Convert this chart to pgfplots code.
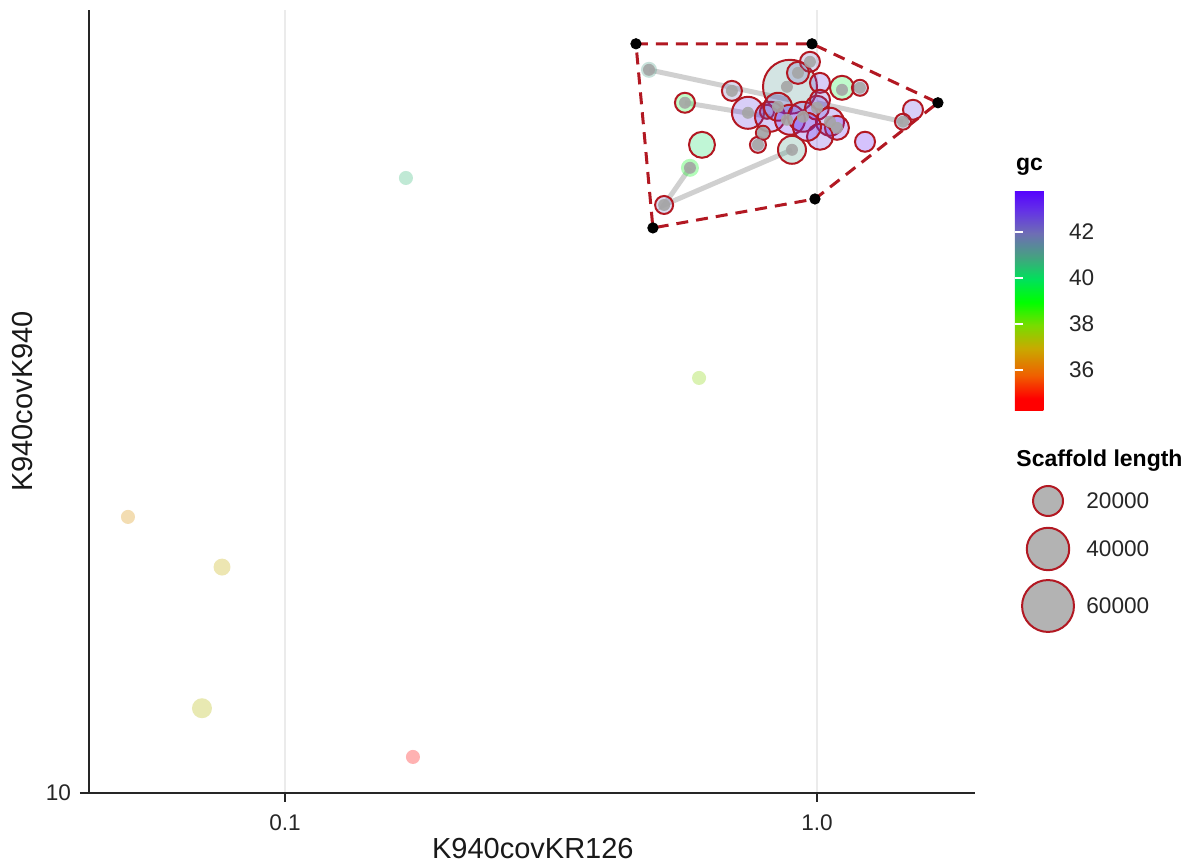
\documentclass[border=0pt]{standalone}
\usepackage{fontspec}
\setmainfont{Liberation Sans}
\usepackage{pgfplots}
\usepackage{pgfplotstable}
\pgfplotsset{compat=1.18}
\pgfkeys{/pgf/number format/assume math mode=true}

\definecolor{hullred}{RGB}{178,24,34}
\definecolor{dotgrey}{RGB}{165,165,165}
\definecolor{linegrey}{RGB}{200,200,200}
\definecolor{gridgrey}{RGB}{235,235,235}
\definecolor{legfill}{RGB}{179,179,179}

\pgfplotsset{colormap={gcmap}{
  rgb255(0cm)=(255,0,0)
  rgb255(5cm)=(255,0,0)
  rgb255(15cm)=(240,95,0)
  rgb255(27cm)=(200,170,0)
  rgb255(37cm)=(120,220,0)
  rgb255(47cm)=(0,255,0)
  rgb255(57cm)=(0,225,90)
  rgb255(67cm)=(70,160,130)
  rgb255(77cm)=(110,110,180)
  rgb255(87cm)=(100,50,230)
  rgb255(96cm)=(85,0,255)
}}

% faded (low coverage) points
\pgfplotstableread{
x y len gc
0.1688 40.85 4400 40.6
0.6003 25.85 4400 37.8
0.05068 18.81 4400 36.5
0.07614 16.77 6400 37.0
0.06982 12.14 8900 37.2
0.1740 10.86 4400 34.5
0.5771 41.81 7200 39.2
0.4833 52.32 5700 41.0
}\faded

% cluster scaffolds
\pgfplotstableread{
x y len gc
0.8898 50.33 64900 41.2
0.9701 53.29 8900 42.0
0.9211 51.96 10800 42.0
1.0131 50.78 8900 42.8
1.1144 50.21 12800 39.5
1.2045 50.21 5700 42.0
0.6921 49.86 8900 42.0
0.5647 48.52 8900 39.3
0.6079 44.07 15000 40.0
0.7419 47.42 22800 42.8
0.8054 47.53 4400 42.0
0.8161 46.99 20000 42.8
0.8447 48.08 17400 42.5
0.8898 46.67 20000 43.2
0.9412 46.99 20000 42.8
1.0000 47.97 12800 42.5
1.0579 46.46 17400 42.8
1.0904 45.82 12800 43.2
1.0131 44.89 15000 42.8
0.8975 43.57 17400 41.0
0.9576 45.92 17400 43.2
0.7916 45.30 4400 42.0
0.7747 44.07 5700 42.0
1.2311 44.38 8900 43.6
1.5153 47.75 8900 42.8
1.4510 46.46 5700 42.0
1.0131 48.85 8900 42.5
0.5160 38.41 7200 42.0
}\cluster

% network nodes
\pgfplotstableread{
x y
0.4833 52.32
0.5771 41.81
0.5160 38.41
0.6921 49.86
0.5647 48.52
0.8781 50.33
0.9701 53.29
0.9211 51.96
1.1144 49.98
1.2045 50.21
0.7419 47.42
0.8781 46.67
0.8975 43.57
0.7916 45.30
0.7747 44.07
1.4510 46.46
1.0904 45.82
1.0000 47.97
0.8447 48.08
0.9412 46.99
1.0579 46.46
}\nodes

% size legend
\pgfplotstableread{
x y len
1048 501 20000
1048 549 40000
1048 606 60000
}\sizeleg

\begin{document}
\begin{tikzpicture}
\path[use as bounding box] (-44.5pt,-36pt) rectangle (555.5pt,396.5pt);
\begin{axis}[
  at={(0,0)}, anchor=south west,
  scale only axis, width=443pt, height=391.5pt,
  xmode=log, ymode=log,
  xmin=0.04281, xmax=1.982, ymin=10, ymax=60,
  axis lines=left,
  axis line style={-, line width=1.2pt, black!85},
  xtick={0.1,1}, xticklabels={0.1,1.0},
  ytick={10}, yticklabels={10},
  minor tick length=0pt,
  tick align=outside, major tick length=4.5pt,
  tick style={line width=1pt, black!85},
  xmajorgrids, major grid style={gridgrey, line width=0.8pt},
  ticklabel style={font=\fontsize{11.3}{13}\selectfont, text=black!85},
  xticklabel style={yshift=-3pt},
  yticklabel style={xshift=-1pt},
  xlabel={K940covKR126}, ylabel={K940covK940},
  label style={font=\fontsize{14.5}{17}\selectfont, text=black!90},
  xlabel style={at={(axis description cs:0.501,-0.0715)}, anchor=center},
  ylabel style={at={(axis description cs:-0.0745,0.50)}, anchor=center},
  clip=false,
  colormap name=gcmap,
  point meta min=34.26, point meta max=43.83,
  colorbar,
  colorbar style={
    at={(1.0451,0.7701)}, anchor=north west,
    scale only axis, width=22pt, height=110pt,
    ytick={36,38,40,42},
    yticklabel pos=right, ytick pos=both,
    tick align=inside, major tick length=4pt,
    tick style={white, line width=0.6pt},
    axis line style={draw=none},
    yticklabel style={font=\fontsize{11.3}{13}\selectfont, text=black!85, xshift=1.5pt},
    title={gc},
    title style={font=\bfseries\fontsize{11.5}{13}\selectfont, at={(0,1)}, anchor=south west, xshift=-3pt, yshift=-2pt},
  },
]
% faded points
\addplot[scatter, only marks, mark=*, point meta=explicit,
  scatter/use mapped color={draw=mapped color, draw opacity=0, fill=mapped color, fill opacity=0.3},
  visualization depends on={5.3*sqrt(\thisrow{len}/10000) \as \rad},
  scatter/@pre marker code/.append style={/tikz/mark size=\rad}]
  table[x=x, y=y, meta=gc] {\faded};
% network edges
\addplot[linegrey, line width=2.5pt, opacity=0.85] coordinates {(0.4833,52.32) (0.8898,48.85)};
\addplot[linegrey, line width=2.5pt, opacity=0.85] coordinates {(0.5647,48.52) (0.8161,46.99)};
\addplot[linegrey, line width=2.5pt, opacity=0.85] coordinates {(0.5771,41.81) (0.5160,38.41) (0.8975,43.57)};
\addplot[linegrey, line width=2.5pt, opacity=0.85] coordinates {(1.4510,46.46) (1.0000,48.52)};
% cluster circles
\addplot[scatter, only marks, mark=*, point meta=explicit,
  scatter/use mapped color={draw=hullred, line width=1pt, fill=mapped color, fill opacity=0.25},
  visualization depends on={5.3*sqrt(\thisrow{len}/10000) \as \rad},
  scatter/@pre marker code/.append style={/tikz/mark size=\rad}]
  table[x=x, y=y, meta=gc] {\cluster};
% nodes
\addplot[only marks, mark=*, mark size=3pt, color=dotgrey,
  mark options={draw opacity=0, fill=dotgrey, fill opacity=0.9}]
  table[x=x, y=y] {\nodes};
% hull
\addplot[hullred, line width=1.5pt, dash pattern=on 6pt off 4pt] coordinates {
  (0.4568,55.53) (0.9786,55.53) (1.6882,48.52) (0.9913,38.94) (0.4916,36.44) (0.4568,55.53)};
\addplot[only marks, mark=*, mark size=2.6pt, black] coordinates {
  (0.4568,55.53) (0.9786,55.53) (1.6882,48.52) (0.9913,38.94) (0.4916,36.44)};
\end{axis}

% size legend, laid out in picture pixel units
\begin{axis}[
  at={(-44.5pt,-36pt)}, anchor=south west,
  scale only axis, width=600pt, height=432.5pt,
  xmin=0, xmax=1200, ymin=0, ymax=865, y dir=reverse,
  hide axis, clip=false,
]
\addplot[scatter, only marks, mark=*, point meta=explicit,
  scatter/use mapped color={draw=hullred, line width=1pt, fill=legfill},
  visualization depends on={5.3*sqrt(\thisrow{len}/10000) \as \rad},
  scatter/@pre marker code/.append style={/tikz/mark size=\rad}]
  table[x=x, y=y, meta=len] {\sizeleg};
\node[anchor=west, font=\bfseries\fontsize{11.5}{13}\selectfont, inner sep=0pt] at (axis cs:1016,461) {Scaffold length};
\node[anchor=west, font=\fontsize{11.3}{13}\selectfont, text=black!85, inner sep=0pt] at (axis cs:1086,501) {20000};
\node[anchor=west, font=\fontsize{11.3}{13}\selectfont, text=black!85, inner sep=0pt] at (axis cs:1086,549) {40000};
\node[anchor=west, font=\fontsize{11.3}{13}\selectfont, text=black!85, inner sep=0pt] at (axis cs:1086,606) {60000};
\end{axis}
\end{tikzpicture}
\end{document}
